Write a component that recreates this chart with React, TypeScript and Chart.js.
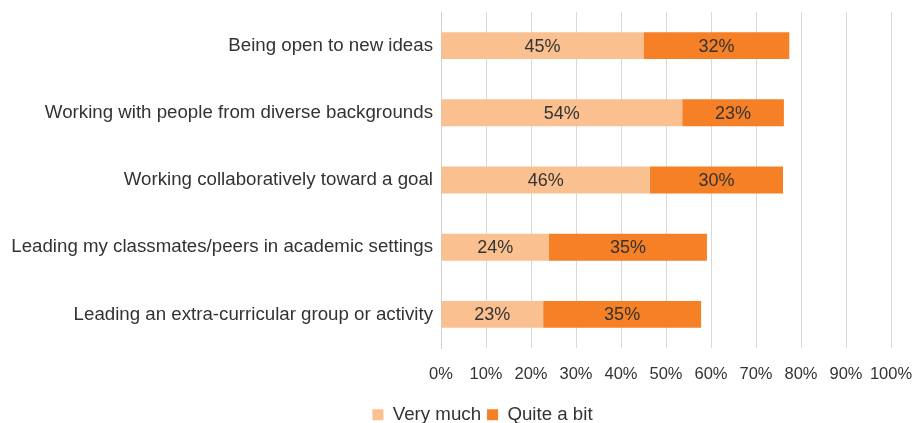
import React, { useEffect, useRef } from "react";
import { Chart, registerables } from "chart.js";

Chart.register(...registerables);

const categories = [
  "Being open to new ideas",
  "Working with people from diverse backgrounds",
  "Working collaboratively toward a goal",
  "Leading my classmates/peers in academic settings",
  "Leading an extra-curricular group or activity",
];
const veryMuch = [45.0, 53.6, 46.4, 24.0, 22.7];
const quiteABit = [32.4, 22.6, 29.6, 35.1, 35.1];
const seriesNames = ["Very much", "Quite a bit"];
const xTicks = [0, 10, 20, 30, 40, 50, 60, 70, 80, 90, 100];

const FONT = "'Liberation Sans', Arial, Helvetica, sans-serif";
const TEXT = "#333333";

const barLabels = {
  id: "barLabels",
  afterDatasetsDraw(chart: any) {
    const ctx = chart.ctx;
    ctx.save();
    ctx.font = `18px ${FONT}`;
    ctx.fillStyle = TEXT;
    ctx.textAlign = "center";
    ctx.textBaseline = "middle";
    chart.data.datasets.forEach((ds: any, di: number) => {
      const meta = chart.getDatasetMeta(di);
      meta.data.forEach((bar: any, i: number) => {
        const v = ds.data[i];
        const cx = (bar.x + bar.base) / 2;
        ctx.fillText(`${Math.round(v)}%`, cx, bar.y + 1);
      });
    });
    ctx.restore();
  },
};

const legendShift = {
  id: "legendShift",
  afterLayout(chart: any) {
    const lg = chart.legend;
    if (lg) {
      lg.left += 37;
      lg.right += 37;
      lg.top += 11;
      lg.bottom += 11;
    }
  },
};

export default function App() {
  const ref = useRef<HTMLCanvasElement | null>(null);
  useEffect(() => {
    document.body.style.margin = "0";
    const chart = new Chart(ref.current as HTMLCanvasElement, {
      type: "bar",
      data: {
        labels: categories,
        datasets: [
          {
            label: seriesNames[0],
            data: veryMuch,
            backgroundColor: "#FAC090",
            barPercentage: 0.4,
            categoryPercentage: 1,
          },
          {
            label: seriesNames[1],
            data: quiteABit,
            backgroundColor: "#F58025",
            barPercentage: 0.4,
            categoryPercentage: 1,
          },
        ],
      },
      options: {
        indexAxis: "y",
        responsive: false,
        animation: false,
        layout: { padding: { top: 12, right: 32, left: 0, bottom: 0 } },
        scales: {
          x: {
            stacked: true,
            min: 0,
            max: 100,
            afterBuildTicks: (scale: any) => {
              scale.ticks = xTicks.map((v) => ({ value: v }));
            },
            afterFit: (scale: any) => {
              const lh = scale.chart.legend ? scale.chart.legend.height : 0;
              scale.height = 423 - 348 - lh;
              scale.paddingLeft = 0;
              scale.paddingRight = 0;
            },
            ticks: {
              padding: 17,
              color: TEXT,
              maxRotation: 0,
              minRotation: 0,
              autoSkip: false,
              font: { family: FONT, size: 16.5 },
              callback: (v: any) => `${v}%`,
            },
            grid: { color: "#D9D9D9", lineWidth: 1, drawTicks: false },
            border: { display: false },
          },
          y: {
            stacked: true,
            afterFit: (scale: any) => {
              scale.width = 441;
              scale.paddingTop = 0;
              scale.paddingBottom = 0;
            },
            ticks: {
              padding: 8,
              color: TEXT,
              font: { family: FONT, size: 18.7 },
            },
            grid: { display: false, drawTicks: false },
            border: { display: true, color: "#D0D0D0", width: 1 },
          },
        },
        plugins: {
          legend: {
            position: "bottom",
            labels: {
              boxWidth: 11,
              boxHeight: 11,
              padding: 6,
              color: TEXT,
              font: { family: FONT, size: 18.7 },
            },
          },
          tooltip: { enabled: false },
        },
      },
      plugins: [barLabels, legendShift],
    });
    return () => chart.destroy();
  }, []);
  return (
    <div style={{ width: 923, height: 423 }}>
      <canvas ref={ref} width={923} height={423} />
    </div>
  );
}
